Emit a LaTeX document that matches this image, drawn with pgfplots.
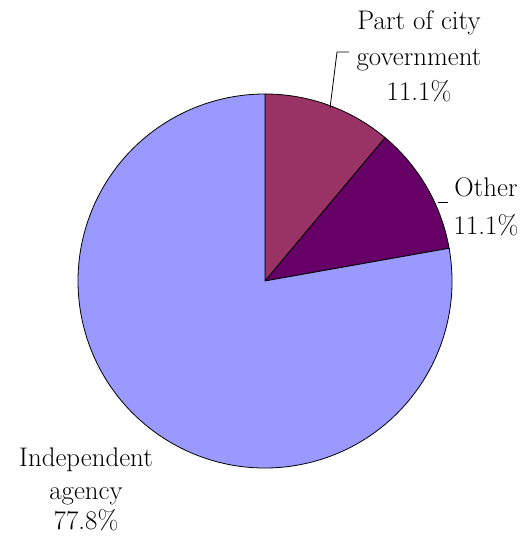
\documentclass[border=0pt]{standalone}
\usepackage{pgfplots}
\pgfplotsset{compat=1.18}
\usepackage{pgfplotstable}
\usepackage{fontspec}
\definecolor{cCity}{HTML}{993366}
\definecolor{cOther}{HTML}{660066}
\definecolor{cIndep}{HTML}{9999FF}

\pgfplotstableread{
label value
city  11.1
other 11.1
indep 77.8
}\piedata

% slice angles, clockwise from the top
\pgfplotstablegetelem{0}{value}\of\piedata \let\vA\pgfplotsretval
\pgfplotstablegetelem{1}{value}\of\piedata \let\vB\pgfplotsretval
\pgfplotstablegetelem{2}{value}\of\piedata \let\vC\pgfplotsretval
\pgfmathsetmacro\aA{90}
\pgfmathsetmacro\aB{\aA-3.6*\vA}
\pgfmathsetmacro\aC{\aB-3.6*\vB}
\pgfmathsetmacro\aD{\aC-3.6*\vC}

\begin{document}
\begin{tikzpicture}[every node/.style={font=\rmfamily\fontsize{27}{34}\selectfont}]
\begin{axis}[
  x=1bp, y=1bp,
  xmin=0, xmax=527, ymin=0, ymax=538,
  hide axis, clip=false,
]
\path (axis cs:0,0) rectangle (axis cs:527,538);
\filldraw[fill=cCity, draw=black, line width=0.8pt]
  (axis cs:265,257) -- ++(\aA:187bp) arc[start angle=\aA, end angle=\aB, radius=187bp] -- cycle;
\filldraw[fill=cOther, draw=black, line width=0.8pt]
  (axis cs:265,257) -- ++(\aB:187bp) arc[start angle=\aB, end angle=\aC, radius=187bp] -- cycle;
\filldraw[fill=cIndep, draw=black, line width=0.8pt]
  (axis cs:265,257) -- ++(\aC:187bp) arc[start angle=\aC, end angle=\aD, radius=187bp] -- cycle;

% leader lines
\draw[line width=0.8pt] (axis cs:330,430) -- (axis cs:337,486) -- (axis cs:349,486);
\draw[line width=0.8pt] (axis cs:438,336) -- (axis cs:448,336);

% labels
\node[anchor=base] at (axis cs:419,508) {Part of city};
\node[anchor=base] at (axis cs:419,472) {government};
\node[anchor=base] at (axis cs:419,437) {11.1\%};
\node[anchor=base] at (axis cs:486,341) {Other};
\node[anchor=base] at (axis cs:486,303) {11.1\%};
\node[anchor=base] at (axis cs:86,71) {Independent};
\node[anchor=base] at (axis cs:86,38) {agency};
\node[anchor=base] at (axis cs:86,8) {77.8\%};
\end{axis}
\end{tikzpicture}
\end{document}
